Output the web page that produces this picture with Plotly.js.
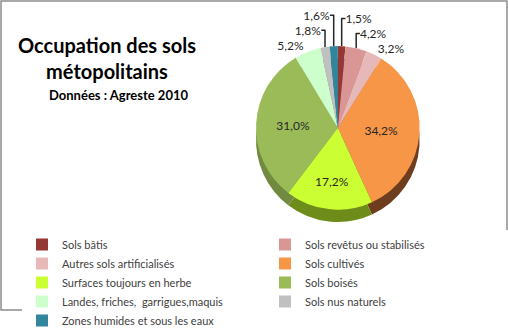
<!DOCTYPE html>
<html>
<head>
<meta charset="utf-8">
<script src="https://cdn.plot.ly/plotly-3.0.1.min.js"></script>
<style>html,body{margin:0;padding:0;background:#fff}#chart{width:508px;height:335px}</style>
</head>
<body>
<div id="chart"></div>
<script>
var categories = ["Sols bâtis", "Sols revêtus ou stabilisés", "Autres sols artificialisés", "Sols cultivés", "Surfaces toujours en herbe", "Sols boisés", "Landes, friches,  garrigues,maquis", "Sols nus naturels", "Zones humides et sous les eaux"];
var values = [1.5, 4.2, 3.2, 34.2, 17.2, 31.0, 5.2, 1.8, 1.6];
var colors = ["#953735", "#D99694", "#E6B9B8", "#F79646", "#CCFF33", "#9BBB59", "#CCFFCC", "#C0C0C0", "#31859C"];
var sideColors = ["#6B2725", "#A06E6C", "#A8877F", "#6E3C1E", "#6E8C1A", "#728A40", "#94BA94", "#8A8A8A", "#226070"];
var labelsText = values.map(function(v){ return v.toFixed(1).replace('.', ',') + '%'; });
var positions = values.map(function(v){ return v < 10 ? 'outside' : 'inside'; });

var font = "Lato, 'Open Sans', sans-serif";

var sideTrace = {
  type: 'pie', labels: categories, values: values, sort: false, direction: 'clockwise', rotation: 0,
  marker: {colors: sideColors, line: {width: 0}},
  textinfo: 'none', hoverinfo: 'skip', showlegend: false,
  domain: {x: [0.40, 0.93], y: [0.286, 0.812]}
};
var topTrace = {
  type: 'pie', labels: categories, values: values, sort: false, direction: 'clockwise', rotation: 0,
  marker: {colors: colors, line: {width: 0}},
  text: labelsText, textinfo: 'text', textposition: positions,
  insidetextorientation: 'horizontal',
  textfont: {family: font, size: 12, color: '#262626'},
  outsidetextfont: {family: font, size: 12, color: '#262626'},
  domain: {x: [0.40, 0.93], y: [0.326, 0.852]}
};

var layout = {
  width: 508, height: 335,
  margin: {l: 0, r: 0, t: 0, b: 0},
  paper_bgcolor: '#ffffff',
  font: {family: font, color: '#404040'},
  showlegend: true,
  legend: {
    orientation: 'h', x: 0.05, xanchor: 'left', y: 0.26, yanchor: 'top',
    entrywidth: 198, entrywidthmode: 'pixels',
    font: {family: font, size: 11, color: '#404040'},
    traceorder: 'normal', itemclick: false
  },
  annotations: [{
    xref: 'paper', yref: 'paper', x: 0.21, y: 0.90, xanchor: 'center', yanchor: 'top',
    text: "<b>Occupation des sols<br>métopolitains</b>", showarrow: false,
    font: {family: font, size: 20, color: '#000000'}
  }, {
    xref: 'paper', yref: 'paper', x: 0.233, y: 0.728, xanchor: 'center', yanchor: 'top',
    text: "<b>Données : Agreste 2010</b>", showarrow: false,
    font: {family: font, size: 13, color: '#000000'}
  }],
  shapes: [{
    type: 'rect', xref: 'paper', yref: 'paper', x0: 0.002, y0: 0.003, x1: 0.998, y1: 0.997,
    line: {color: '#8c8c8c', width: 1.5}, fillcolor: 'rgba(0,0,0,0)'
  }]
};

Plotly.newPlot('chart', [sideTrace, topTrace], layout, {displayModeBar: false, staticPlot: true});
</script>
</body>
</html>
